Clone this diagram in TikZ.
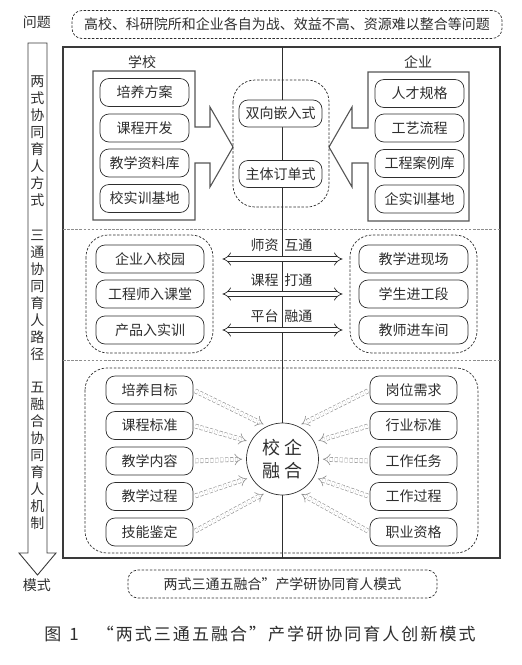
\documentclass[tikz,border=0pt]{standalone}
\usepackage{fontspec}
\setmainfont{Noto Sans CJK SC}
\usepackage{xcolor}
\usetikzlibrary{arrows.meta}
\definecolor{framegray}{HTML}{3A3A3A}
\definecolor{boxgray}{HTML}{555555}
\definecolor{dashgray}{HTML}{8E8E8E}
\definecolor{inkgray}{HTML}{2E2E2E}

\tikzset{
  itembox/.style={draw=inkgray, rounded corners=9pt, fill=white, minimum width=89pt,
    minimum height=28pt, inner sep=0pt, font=\fontsize{14}{16}\selectfont, text=inkgray},
  groupbox/.style={draw=inkgray, dash pattern=on 2.5pt off 1.6pt, rounded corners=22pt},
  notebox/.style={draw=inkgray, dash pattern=on 2.5pt off 1.6pt, rounded corners=10pt,
    minimum height=28pt, inner sep=0pt, font=\fontsize{14}{16}\selectfont, text=inkgray},
  sidetext/.style={align=center, inner sep=0pt, font=\fontsize{14}{17}\selectfont, text=inkgray},
  boxline/.style={draw=boxgray, line width=1.1pt},
  linkarrow/.style={draw=inkgray, double, double distance=4pt, line width=0.7pt,
    Implies-Implies, shorten <=18pt, shorten >=16pt},
  fanarrow/.style={draw=dashgray, double, double distance=3.5pt, line width=0.6pt,
    dash pattern=on 3pt off 2pt, -Implies, shorten <=2pt, shorten >=4pt},
}

\begin{document}
\begin{tikzpicture}[x=1pt, y=-1pt, line width=0.7pt]
  \useasboundingbox (0,0) rectangle (522,665);

  % top row: problem
  \node[sidetext] (lblproblem) at (37,22) {问题};
  \node[notebox, minimum width=430pt] (problem) at (287,24.5)
    {高校、科研院所和企业各自为战、效益不高、资源难以整合等问题};

  % left flow arrow
  \draw[framegray, line width=0.9pt] (28,43) -- (47,43) -- (47,553) -- (56,553)
    -- (37.5,575) -- (19,553) -- (28,553) -- cycle;
  \node[sidetext] (side1) at (37.5,141) {两\\式\\协\\同\\育\\人\\方\\式};
  \node[sidetext] (side2) at (37.5,295) {三\\通\\协\\同\\育\\人\\路\\径};
  \node[sidetext] (side3) at (37.5,455.5) {五\\融\\合\\协\\同\\育\\人\\机\\制};
  \node[sidetext] (lblmode) at (37,585) {模式};

  % main frame
  \draw[framegray, line width=1.2pt] (63,47) rectangle (500,558);
  \draw[dashgray, dash pattern=on 2.5pt off 1.6pt] (63,229) -- (500,229);
  \draw[dashgray, dash pattern=on 2.5pt off 1.6pt] (63,360) -- (500,360);
  \draw[inkgray, line width=0.8pt] (282,47) -- (282,558);

  % part 1: school and enterprise
  \node[sidetext] (lblschool) at (142,62) {学校};
  \node[sidetext] (lblfirm) at (418,62) {企业};
  \draw[boxline] (93,71) -- (195,71) -- (195,127) -- (210,127) -- (210,107) -- (233,147)
    -- (210,187) -- (210,163) -- (195,163) -- (195,220) -- (93,220) -- cycle;
  \draw[boxline] (469,72) -- (368,72) -- (368,128) -- (352,128) -- (352,107) -- (329,147)
    -- (352,187) -- (352,163) -- (368,163) -- (368,221) -- (469,221) -- cycle;

  \node[itembox] (sc1) at (144.5,92.5) {培养方案};
  \node[itembox] (sc2) at (144.5,128) {课程开发};
  \node[itembox] (sc3) at (144.5,163) {教学资料库};
  \node[itembox] (sc4) at (144.5,198.5) {校实训基地};
  \node[itembox] (en1) at (419.5,93.5) {人才规格};
  \node[itembox] (en2) at (419.5,128) {工艺流程};
  \node[itembox] (en3) at (419.5,163.5) {工程案例库};
  \node[itembox] (en4) at (419.5,199) {企实训基地};

  \draw[groupbox] (233,80) rectangle (329,207);
  \node[itembox, minimum width=83pt, minimum height=27pt] (md1) at (280.5,113.5) {双向嵌入式};
  \node[itembox, minimum width=83pt, minimum height=27pt] (md2) at (280.5,174) {主体订单式};

  % part 2: three links
  \draw[groupbox] (86,235) rectangle (213,353);
  \draw[groupbox] (350,235) rectangle (477,353);
  \node[itembox, minimum width=108pt] (ln1) at (150,259) {企业入校园};
  \node[itembox, minimum width=108pt] (ln2) at (150,294) {工程师入课堂};
  \node[itembox, minimum width=108pt] (ln3) at (150,330) {产品入实训};
  \node[itembox, minimum width=109pt] (rn1) at (413.5,259) {教学进现场};
  \node[itembox, minimum width=109pt] (rn2) at (413.5,294) {学生进工段};
  \node[itembox, minimum width=109pt] (rn3) at (413.5,330) {教师进车间};

  \draw[linkarrow] (ln1) -- (rn1)
    node[midway, above=7pt, inner sep=0pt, font=\fontsize{14}{16}\selectfont, text=inkgray] {师资\hspace{6pt}互通};
  \draw[linkarrow] (ln2) -- (rn2)
    node[midway, above=7pt, inner sep=0pt, font=\fontsize{14}{16}\selectfont, text=inkgray] {课程\hspace{6pt}打通};
  \draw[linkarrow] (ln3) -- (rn3)
    node[midway, above=7pt, inner sep=0pt, font=\fontsize{14}{16}\selectfont, text=inkgray] {平台\hspace{6pt}融通};

  % part 3: five fusions
  \draw[groupbox] (85,368) rectangle (478,553);
  \node[circle, draw=inkgray, fill=white, minimum size=72pt, inner sep=0pt, align=center,
    font=\fontsize{18}{23}\selectfont, text=inkgray] (cir) at (282.5,459) {校\hspace{4pt}企\\融\hspace{4pt}合};

  \node[itembox, minimum width=87pt] (lt1) at (149.5,390) {培养目标};
  \node[itembox, minimum width=87pt] (lt2) at (149.5,425.5) {课程标准};
  \node[itembox, minimum width=87pt] (lt3) at (149.5,461) {教学内容};
  \node[itembox, minimum width=87pt] (lt4) at (149.5,496.5) {教学过程};
  \node[itembox, minimum width=87pt] (lt5) at (149.5,532) {技能鉴定};
  \node[itembox, minimum width=87pt] (rt1) at (413.5,390) {岗位需求};
  \node[itembox, minimum width=87pt] (rt2) at (413.5,425.5) {行业标准};
  \node[itembox, minimum width=87pt] (rt3) at (413.5,461) {工作任务};
  \node[itembox, minimum width=87pt] (rt4) at (413.5,496.5) {工作过程};
  \node[itembox, minimum width=87pt] (rt5) at (413.5,532) {职业资格};

  \draw[fanarrow] (lt1.east) -- (cir.115);
  \draw[fanarrow] (lt2.east) -- (cir.152);
  \draw[fanarrow] (lt3.east) -- (cir.180);
  \draw[fanarrow] (lt4.east) -- (cir.210);
  \draw[fanarrow] (lt5.east) -- (cir.245);
  \draw[fanarrow] (rt1.west) -- (cir.65);
  \draw[fanarrow] (rt2.west) -- (cir.28);
  \draw[fanarrow] (rt3.west) -- (cir.0);
  \draw[fanarrow] (rt4.west) -- (cir.-30);
  \draw[fanarrow] (rt5.west) -- (cir.-65);

  % bottom row: mode and caption
  \node[notebox, minimum width=309pt] (mode) at (282.5,584) {两式三通五融合”产学研协同育人模式};
  \node[inner sep=0pt, font=\fontsize{17}{20}\selectfont\addfontfeatures{LetterSpace=12}, text=inkgray]
    (caption) at (260,634) {图\hspace{8pt}1\hspace{18pt}“两式三通五融合”产学研协同育人创新模式};
\end{tikzpicture}
\end{document}
